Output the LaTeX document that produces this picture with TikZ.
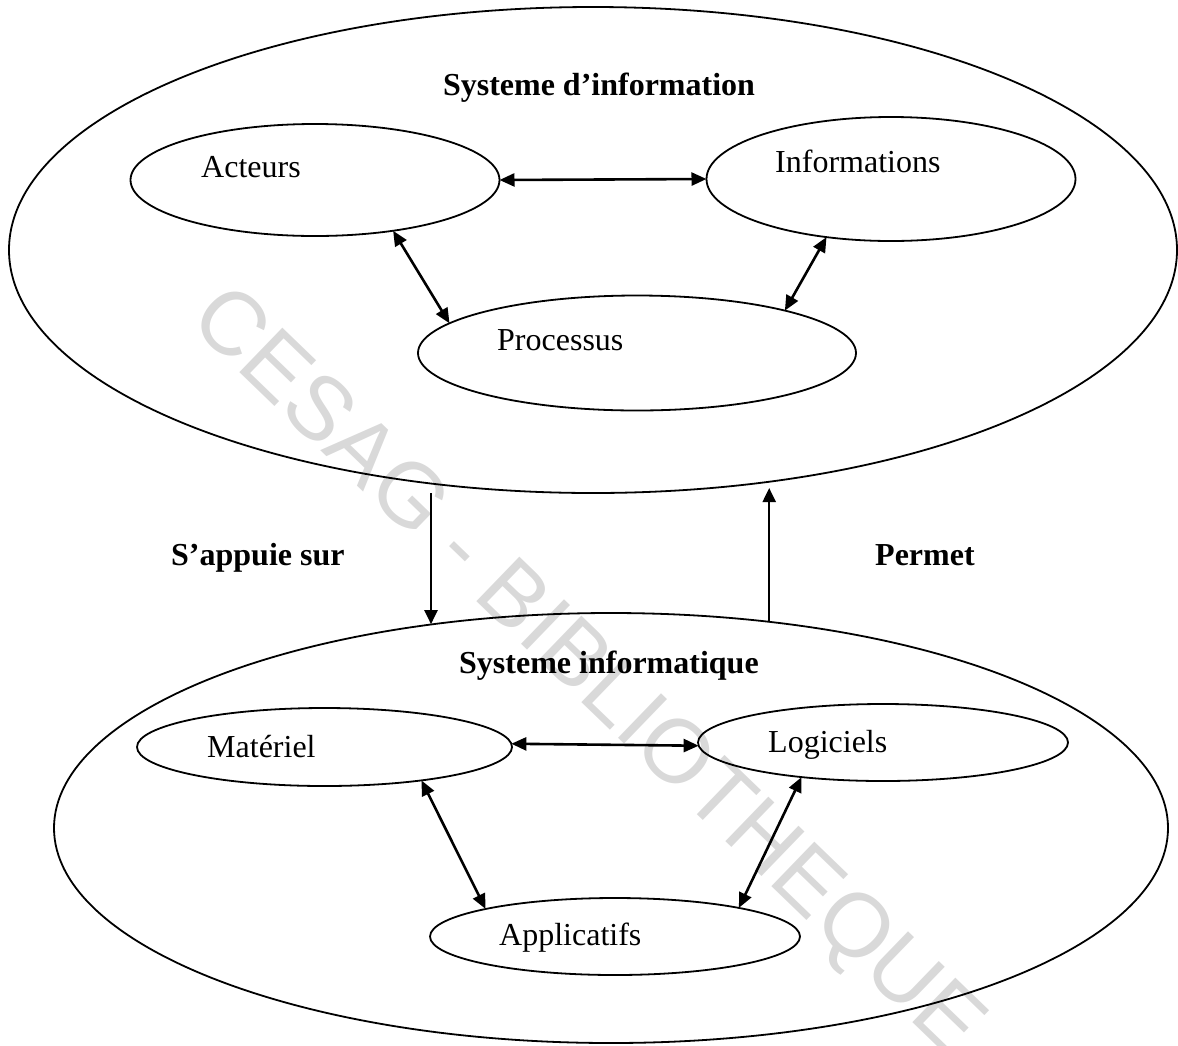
\documentclass[tikz,border=0pt]{standalone}
\usepackage{fontspec}
\setmainfont{Liberation Serif}
\newfontfamily\wmfont{Liberation Sans}
\usetikzlibrary{shapes.geometric,arrows.meta}
\definecolor{wmgray}{RGB}{217,217,217}
\begin{document}
\begin{tikzpicture}[x=1pt,y=-1pt,
  oval/.style={draw, ellipse, inner sep=0pt, outer sep=0pt, line width=1.8pt},
  lbl/.style={anchor=base west, inner sep=0pt, font=\fontsize{32}{38}\selectfont},
  ttl/.style={anchor=base west, inner sep=0pt, font=\fontsize{32}{38}\selectfont\bfseries},
  biarrow/.style={line width=2.6pt, {Triangle[length=15pt,width=13pt]}-{Triangle[length=15pt,width=13pt]}},
  onearrow/.style={line width=2.2pt, -{Triangle[length=14pt,width=13pt]}},
  wmark/.style={font=\wmfont\fontsize{90}{100}\selectfont, text=wmgray, rotate=-44, inner sep=0pt}]
\useasboundingbox (0,0) rectangle (1178,1045);
% watermark
\node[wmark] (wm) at (585,674) {CESAG - BIBLIOTHEQUE};
% big ellipses
\node[oval, minimum width=1168pt, minimum height=486pt] (si) at (593,250) {};
\node[oval, minimum width=1114pt, minimum height=430pt] (sinfo) at (611,828) {};
% small ellipses
\node[oval, minimum width=369pt, minimum height=112pt] (act) at (315,180) {};
\node[oval, minimum width=369pt, minimum height=124pt] (inf) at (891,179) {};
\node[oval, minimum width=438pt, minimum height=115pt] (proc) at (637,353) {};
\node[oval, minimum width=375pt, minimum height=78pt] (mat) at (324.5,747) {};
\node[oval, minimum width=370pt, minimum height=77pt] (log) at (883,742.5) {};
\node[oval, minimum width=370pt, minimum height=77pt] (app) at (615,936.5) {};
% texts
\node[ttl, anchor=base] (t1) at (599,95) {Systeme d’information};
\node[lbl] (tact) at (201,177) {Acteurs};
\node[lbl] (tinf) at (775,172) {Informations};
\node[lbl] (tproc) at (497,350) {Processus};
\node[ttl] (tsa) at (171,565) {S’appuie sur};
\node[ttl] (tpe) at (875,565) {Permet};
\node[ttl] (t2) at (459,673) {Systeme informatique};
\node[lbl] (tmat) at (207,757) {Matériel};
\node[lbl] (tlog) at (768,752) {Logiciels};
\node[lbl] (tapp) at (499,945) {Applicatifs};
% connectors
\draw[biarrow] (act.east) -- (inf.west);
\draw[biarrow] (act.-33.7) -- (proc.171.1);
\draw[biarrow] (inf.-138.3) -- (proc.16.1);
\coordinate (sa) at (431,493);
\draw[onearrow] (sa) -- (sa |- sinfo.131.5);
\coordinate (pe) at (769.2,488);
\draw[onearrow] (pe |- sinfo.52.5) -- (pe);
\draw[biarrow] (mat.1) -- (log.-179.5);
\draw[biarrow] (mat.-19.9) -- (app.168.1);
\draw[biarrow] (log.-157.8) -- (app.13);
\end{tikzpicture}
\end{document}
